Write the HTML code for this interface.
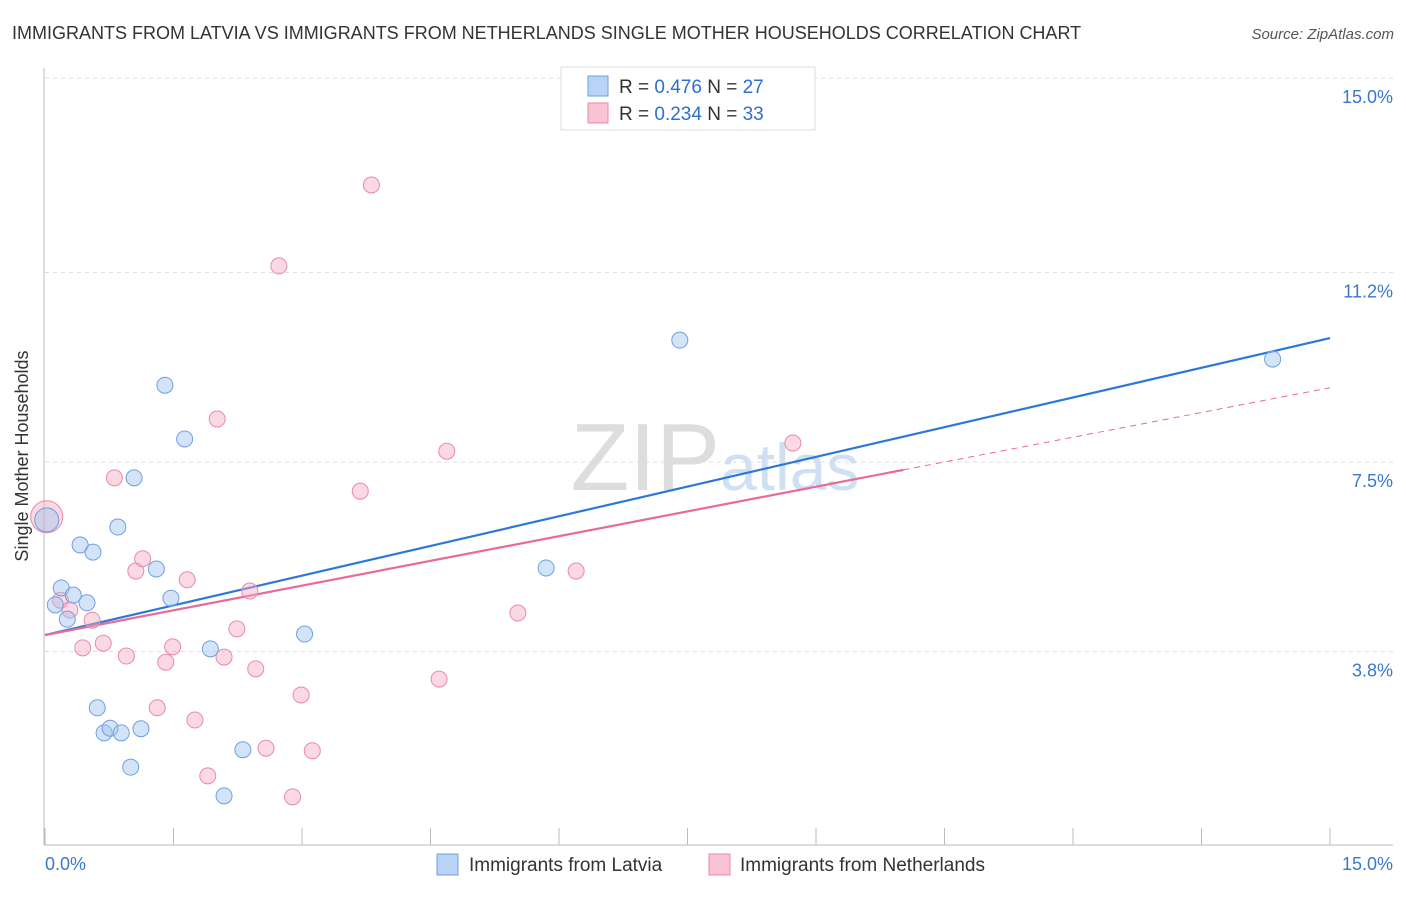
<!DOCTYPE html>
<html><head><meta charset="utf-8"><style>
body{margin:0;background:#fff;font-family:"Liberation Sans",sans-serif;}
svg text{font-family:"Liberation Sans",sans-serif;}
</style></head><body>
<svg width="1406" height="892" viewBox="0 0 1406 892" xmlns="http://www.w3.org/2000/svg">
<text x="12" y="39" font-size="18" fill="#333">IMMIGRANTS FROM LATVIA VS IMMIGRANTS FROM NETHERLANDS SINGLE MOTHER HOUSEHOLDS CORRELATION CHART</text>
<text x="1394" y="39" font-size="15" fill="#555" font-style="italic" text-anchor="end">Source: ZipAtlas.com</text>
<g id="grid"></g>
<text x="720" y="490" font-size="96" fill="#ddd" text-anchor="end" font-family="Liberation Serif">ZIP</text>
<text x="720" y="490" font-size="66" fill="#cfe0f3">atlas</text>
<g id="axes"></g>
<g id="lines"></g>
<g id="pts"></g>
<text x="28" y="456" font-size="18" fill="#333" text-anchor="middle" transform="rotate(-90 28 456)">Single Mother Households</text>
<g>
<rect x="561" y="67" width="254" height="63" fill="#fff" stroke="#ddd"/>
<rect x="588" y="76" width="20" height="20" fill="#b8d3f5" stroke="#6fa0e0"/>
<rect x="588" y="103" width="20" height="20" fill="#fac3d4" stroke="#e88aa8"/>
<text x="619" y="93" font-size="19" fill="#333">R = <tspan fill="#2d6fd0">0.476</tspan>   N = <tspan fill="#2d6fd0">27</tspan></text>
<text x="619" y="120" font-size="19" fill="#333">R = <tspan fill="#2d6fd0">0.234</tspan>   N = <tspan fill="#2d6fd0">33</tspan></text>
</g>
<g>
<rect x="437" y="854" width="21" height="21" fill="#b8d3f5" stroke="#6fa0e0"/>
<text x="469" y="871" font-size="19" fill="#333">Immigrants from Latvia</text>
<rect x="709" y="854" width="21" height="21" fill="#fac3d4" stroke="#e88aa8"/>
<text x="740" y="871" font-size="19" fill="#333">Immigrants from Netherlands</text>
</g>
</svg>
<script>
const yTicks=[3.8,7.5,11.2,15.0];
const xTickLabels=["0.0%","15.0%"];
const latviaX=[0.02,0.12,0.19,0.26,0.33,0.41,0.49,0.56,0.61,0.69,0.76,0.85,0.89,1.00,1.04,1.12,1.30,1.40,1.47,1.63,1.93,2.09,2.31,3.03,5.85,7.41,14.33];
const latviaY=[6.37,4.71,5.04,4.43,4.90,5.88,4.75,5.74,2.70,2.21,2.30,6.23,2.21,1.54,7.19,2.29,5.41,9.00,4.84,7.95,3.85,0.98,1.88,4.14,5.43,9.88,9.51];
const nethX=[0.02,0.18,0.29,0.44,0.55,0.68,0.81,0.95,1.06,1.14,1.31,1.41,1.49,1.66,1.75,1.90,2.01,2.09,2.24,2.39,2.46,2.58,2.73,2.89,2.99,3.12,3.68,3.81,4.60,4.69,5.52,6.20,8.73];
const nethY=[6.43,4.80,4.61,3.87,4.41,3.96,7.19,3.71,5.37,5.61,2.70,3.59,3.89,5.20,2.46,1.37,8.34,3.69,4.24,4.98,3.46,1.91,11.33,0.96,2.95,1.86,6.93,12.91,3.26,7.71,4.55,5.37,7.87];
const latviaTrend=[4.12,9.92];
const nethTrend=[4.12,8.95];
const nethSolidEnd=10.02;
const NS="http://www.w3.org/2000/svg";
const X=v=>45+v*1285/15, Y=v=>846-v*51.2;
function mk(t,a,p){const e=document.createElementNS(NS,t);for(const k in a)e.setAttribute(k,a[k]);p.appendChild(e);return e;}
const grid=document.getElementById('grid'),axes=document.getElementById('axes');
yTicks.forEach(t=>{
const l=mk('line',{x1:45,x2:1393,y1:Y(t),y2:Y(t),stroke:'#ddd','stroke-dasharray':'4,4'},grid);


const tx=mk('text',{x:1393,y:Y(t)+25,'font-size':18,fill:'#3a78d0','text-anchor':'end'},axes);
tx.textContent=t.toFixed(1)+'%';


});
const ax=mk('line',{x1:44,x2:1393,y1:845,y2:845,stroke:'#bbb'},axes);


const ay=mk('line',{x1:44,x2:44,y1:68,y2:845,stroke:'#bbb'},axes);


for(let i=0;i<=10;i++){const tk=mk('line',{x1:X(i*1.5),x2:X(i*1.5),y1:828,y2:845,stroke:'#bbb'},axes);

}
const xl0=mk('text',{x:45,y:870,'font-size':18,fill:'#3a78d0'},axes);xl0.textContent=xTickLabels[0];


const xl1=mk('text',{x:1393,y:870,'font-size':18,fill:'#3a78d0','text-anchor':'end'},axes);xl1.textContent=xTickLabels[1];


const pts=document.getElementById('pts');
nethX.forEach((x,i)=>{const c=mk('circle',{cx:X(x),cy:Y(nethY[i]),r:i==0?16:8,fill:'rgba(247,170,196,0.45)',stroke:'#e88aa8','stroke-width':1},pts);

});
latviaX.forEach((x,i)=>{const c=mk('circle',{cx:X(x),cy:Y(latviaY[i]),r:i==0?12:8,fill:'rgba(160,195,240,0.45)',stroke:'#6fa0e0','stroke-width':1},pts);

});
const lg=document.getElementById('lines');
const pAt=v=>nethTrend[0]+(nethTrend[1]-nethTrend[0])*v/15;
const l1=mk('line',{x1:X(0),y1:Y(latviaTrend[0]),x2:X(15),y2:Y(latviaTrend[1]),stroke:'#2d78d6','stroke-width':2.2},lg);


const l2=mk('line',{x1:X(0),y1:Y(nethTrend[0]),x2:X(nethSolidEnd),y2:Y(pAt(nethSolidEnd)),stroke:'#e8699a','stroke-width':2.2},lg);


const l3=mk('line',{x1:X(nethSolidEnd),y1:Y(pAt(nethSolidEnd)),x2:X(15),y2:Y(nethTrend[1]),stroke:'#e8699a','stroke-width':1,'stroke-dasharray':'6,5'},lg);


</script>
</body></html>
